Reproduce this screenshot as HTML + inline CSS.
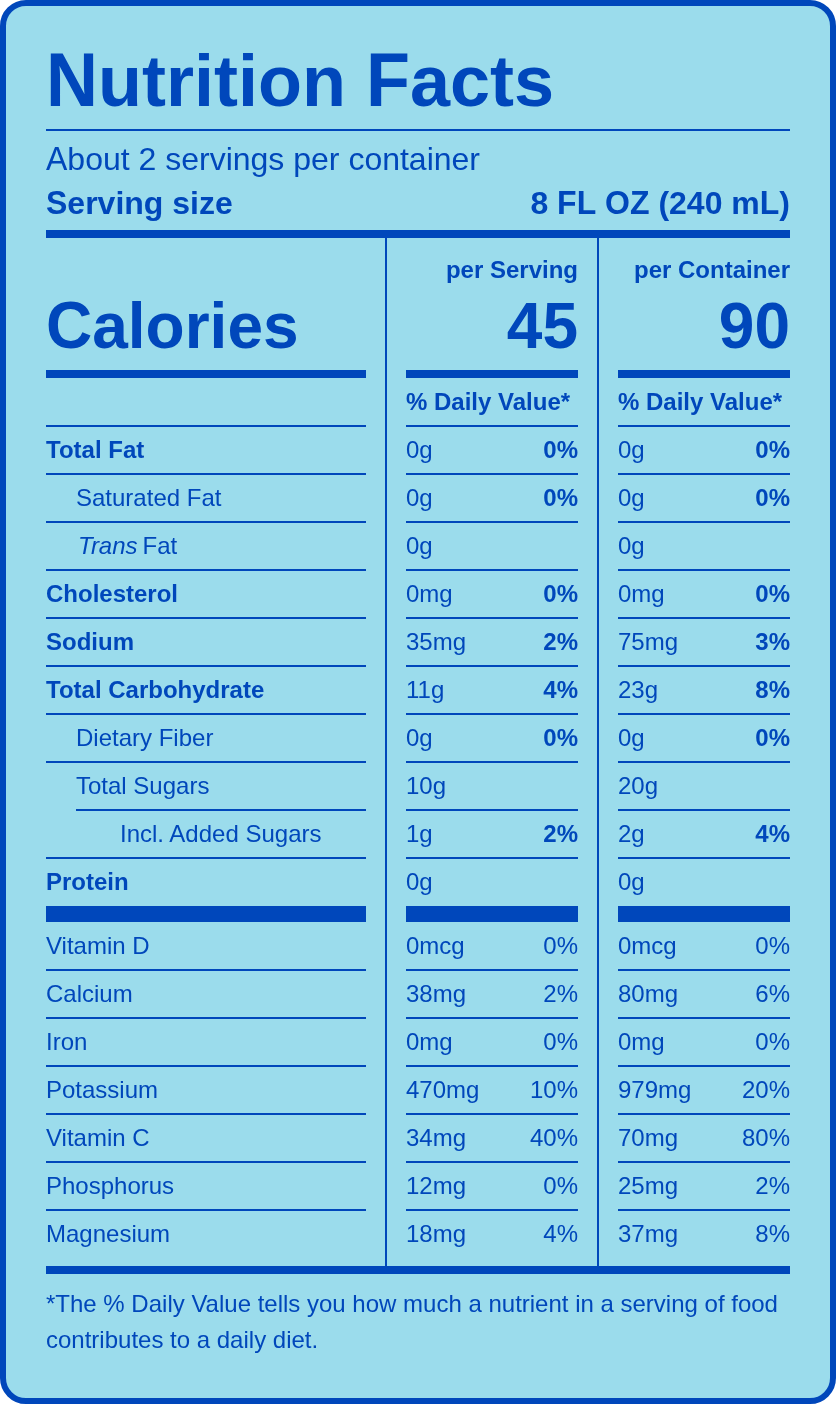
<!DOCTYPE html>
<html><head><meta charset="utf-8"><title>Nutrition Facts</title>
<style>
html,body{margin:0;padding:0;background:#fff;}
.label{position:relative;width:836px;height:1404px;box-sizing:border-box;border:6px solid #0047bb;border-radius:26px;background:#9bdcec;overflow:hidden;}
svg{position:absolute;left:-6px;top:-6px;}
text{white-space:pre;font-family:"Liberation Sans",Arial,Helvetica,sans-serif;fill:#0047bb;font-size:24px;}
.b{font-weight:bold;}
.i{font-style:italic;}
.t{font-size:72px;font-weight:bold;}
.m{font-size:32px;}
.mb{font-size:32px;font-weight:bold;}
.cal{font-size:64px;font-weight:bold;}
rect{fill:#0047bb;}
</style></head><body>
<div class="label">
<svg width="836" height="1404" viewBox="0 0 836 1404">
<text transform="translate(46.00 106) scale(1 1.045)" class="t">N</text>
<text x="98.00" y="106" class="t">utrition </text>
<text transform="translate(365.92 106) scale(1 1.045)" class="t">F</text>
<text x="409.90" y="106" class="t">acts</text>
<rect x="46" y="129" width="744" height="2"/>
<text transform="translate(46.00 170) scale(1 1.035)" class="m">A</text>
<text x="67.34" y="170" class="m">bout 2 servings per container</text>
<text transform="translate(46.00 214) scale(1 1.035)" class="mb">S</text>
<text x="67.34" y="214" class="mb">erving size</text>
<text x="530.41" y="214" class="mb">8 </text>
<text transform="translate(557.09 214) scale(1 1.035)" class="mb">F</text>
<text transform="translate(576.64 214) scale(1 1.035)" class="mb">L</text>
<text x="596.19" y="214" class="mb"> </text>
<text transform="translate(605.08 214) scale(1 1.035)" class="mb">O</text>
<text transform="translate(629.97 214) scale(1 1.035)" class="mb">Z</text>
<text x="649.52" y="214" class="mb"> (240 m</text>
<text transform="translate(759.80 214) scale(1 1.035)" class="mb">L</text>
<text x="779.34" y="214" class="mb">)</text>
<rect x="46" y="230" width="744" height="8"/>
<rect x="385" y="238" width="2" height="1028"/>
<rect x="597" y="238" width="2" height="1028"/>
<text x="578" y="278" class="b" text-anchor="end">per Serving</text>
<text x="790" y="278" class="b" text-anchor="end">per Container</text>
<text transform="translate(46.00 348) scale(1 1.03)" class="cal">C</text>
<text x="92.22" y="348" class="cal">alories</text>
<text x="578" y="348" class="cal" text-anchor="end">45</text>
<text x="790" y="348" class="cal" text-anchor="end">90</text>
<rect x="46" y="370" width="320" height="8"/>
<rect x="406" y="370" width="172" height="8"/>
<rect x="618" y="370" width="172" height="8"/>
<text x="406" y="410" class="b">% Daily Value*</text>
<text x="618" y="410" class="b">% Daily Value*</text>
<rect x="46" y="425" width="320" height="2"/>
<rect x="406" y="425" width="172" height="2"/>
<rect x="618" y="425" width="172" height="2"/>
<text x="46" y="458" class="b">Total Fat</text>
<text x="406" y="458" class="r">0g</text>
<text x="578" y="458" class="b" text-anchor="end">0%</text>
<text x="618" y="458" class="r">0g</text>
<text x="790" y="458" class="b" text-anchor="end">0%</text>
<rect x="46" y="473" width="320" height="2"/>
<rect x="406" y="473" width="172" height="2"/>
<rect x="618" y="473" width="172" height="2"/>
<text x="76" y="506" class="r">Saturated Fat</text>
<text x="406" y="506" class="r">0g</text>
<text x="578" y="506" class="b" text-anchor="end">0%</text>
<text x="618" y="506" class="r">0g</text>
<text x="790" y="506" class="b" text-anchor="end">0%</text>
<rect x="46" y="521" width="320" height="2"/>
<rect x="406" y="521" width="172" height="2"/>
<rect x="618" y="521" width="172" height="2"/>
<text x="78" y="554" class="r i">Trans</text><text x="142.5" y="554" class="r">Fat</text>
<text x="406" y="554" class="r">0g</text>
<text x="618" y="554" class="r">0g</text>
<rect x="46" y="569" width="320" height="2"/>
<rect x="406" y="569" width="172" height="2"/>
<rect x="618" y="569" width="172" height="2"/>
<text x="46" y="602" class="b">Cholesterol</text>
<text x="406" y="602" class="r">0mg</text>
<text x="578" y="602" class="b" text-anchor="end">0%</text>
<text x="618" y="602" class="r">0mg</text>
<text x="790" y="602" class="b" text-anchor="end">0%</text>
<rect x="46" y="617" width="320" height="2"/>
<rect x="406" y="617" width="172" height="2"/>
<rect x="618" y="617" width="172" height="2"/>
<text x="46" y="650" class="b">Sodium</text>
<text x="406" y="650" class="r">35mg</text>
<text x="578" y="650" class="b" text-anchor="end">2%</text>
<text x="618" y="650" class="r">75mg</text>
<text x="790" y="650" class="b" text-anchor="end">3%</text>
<rect x="46" y="665" width="320" height="2"/>
<rect x="406" y="665" width="172" height="2"/>
<rect x="618" y="665" width="172" height="2"/>
<text x="46" y="698" class="b">Total Carbohydrate</text>
<text x="406" y="698" class="r">11g</text>
<text x="578" y="698" class="b" text-anchor="end">4%</text>
<text x="618" y="698" class="r">23g</text>
<text x="790" y="698" class="b" text-anchor="end">8%</text>
<rect x="46" y="713" width="320" height="2"/>
<rect x="406" y="713" width="172" height="2"/>
<rect x="618" y="713" width="172" height="2"/>
<text x="76" y="746" class="r">Dietary Fiber</text>
<text x="406" y="746" class="r">0g</text>
<text x="578" y="746" class="b" text-anchor="end">0%</text>
<text x="618" y="746" class="r">0g</text>
<text x="790" y="746" class="b" text-anchor="end">0%</text>
<rect x="46" y="761" width="320" height="2"/>
<rect x="406" y="761" width="172" height="2"/>
<rect x="618" y="761" width="172" height="2"/>
<text x="76" y="794" class="r">Total Sugars</text>
<text x="406" y="794" class="r">10g</text>
<text x="618" y="794" class="r">20g</text>
<rect x="76" y="809" width="290" height="2"/>
<rect x="406" y="809" width="172" height="2"/>
<rect x="618" y="809" width="172" height="2"/>
<text x="120" y="842" class="r">Incl. Added Sugars</text>
<text x="406" y="842" class="r">1g</text>
<text x="578" y="842" class="b" text-anchor="end">2%</text>
<text x="618" y="842" class="r">2g</text>
<text x="790" y="842" class="b" text-anchor="end">4%</text>
<rect x="46" y="857" width="320" height="2"/>
<rect x="406" y="857" width="172" height="2"/>
<rect x="618" y="857" width="172" height="2"/>
<text x="46" y="890" class="b">Protein</text>
<text x="406" y="890" class="r">0g</text>
<text x="618" y="890" class="r">0g</text>
<rect x="46" y="906" width="320" height="16"/>
<rect x="406" y="906" width="172" height="16"/>
<rect x="618" y="906" width="172" height="16"/>
<text x="46" y="954" class="r">Vitamin D</text>
<text x="406" y="954" class="r">0mcg</text>
<text x="578" y="954" class="r" text-anchor="end">0%</text>
<text x="618" y="954" class="r">0mcg</text>
<text x="790" y="954" class="r" text-anchor="end">0%</text>
<rect x="46" y="969" width="320" height="2"/>
<rect x="406" y="969" width="172" height="2"/>
<rect x="618" y="969" width="172" height="2"/>
<text x="46" y="1002" class="r">Calcium</text>
<text x="406" y="1002" class="r">38mg</text>
<text x="578" y="1002" class="r" text-anchor="end">2%</text>
<text x="618" y="1002" class="r">80mg</text>
<text x="790" y="1002" class="r" text-anchor="end">6%</text>
<rect x="46" y="1017" width="320" height="2"/>
<rect x="406" y="1017" width="172" height="2"/>
<rect x="618" y="1017" width="172" height="2"/>
<text x="46" y="1050" class="r">Iron</text>
<text x="406" y="1050" class="r">0mg</text>
<text x="578" y="1050" class="r" text-anchor="end">0%</text>
<text x="618" y="1050" class="r">0mg</text>
<text x="790" y="1050" class="r" text-anchor="end">0%</text>
<rect x="46" y="1065" width="320" height="2"/>
<rect x="406" y="1065" width="172" height="2"/>
<rect x="618" y="1065" width="172" height="2"/>
<text x="46" y="1098" class="r">Potassium</text>
<text x="406" y="1098" class="r">470mg</text>
<text x="578" y="1098" class="r" text-anchor="end">10%</text>
<text x="618" y="1098" class="r">979mg</text>
<text x="790" y="1098" class="r" text-anchor="end">20%</text>
<rect x="46" y="1113" width="320" height="2"/>
<rect x="406" y="1113" width="172" height="2"/>
<rect x="618" y="1113" width="172" height="2"/>
<text x="46" y="1146" class="r">Vitamin C</text>
<text x="406" y="1146" class="r">34mg</text>
<text x="578" y="1146" class="r" text-anchor="end">40%</text>
<text x="618" y="1146" class="r">70mg</text>
<text x="790" y="1146" class="r" text-anchor="end">80%</text>
<rect x="46" y="1161" width="320" height="2"/>
<rect x="406" y="1161" width="172" height="2"/>
<rect x="618" y="1161" width="172" height="2"/>
<text x="46" y="1194" class="r">Phosphorus</text>
<text x="406" y="1194" class="r">12mg</text>
<text x="578" y="1194" class="r" text-anchor="end">0%</text>
<text x="618" y="1194" class="r">25mg</text>
<text x="790" y="1194" class="r" text-anchor="end">2%</text>
<rect x="46" y="1209" width="320" height="2"/>
<rect x="406" y="1209" width="172" height="2"/>
<rect x="618" y="1209" width="172" height="2"/>
<text x="46" y="1242" class="r">Magnesium</text>
<text x="406" y="1242" class="r">18mg</text>
<text x="578" y="1242" class="r" text-anchor="end">4%</text>
<text x="618" y="1242" class="r">37mg</text>
<text x="790" y="1242" class="r" text-anchor="end">8%</text>
<rect x="46" y="1266" width="744" height="8"/>
<text x="46" y="1312" class="r">*The % Daily Value tells you how much a nutrient in a serving of food</text>
<text x="46" y="1348" class="r">contributes to a daily diet.</text>
</svg>
</div>
</body></html>
